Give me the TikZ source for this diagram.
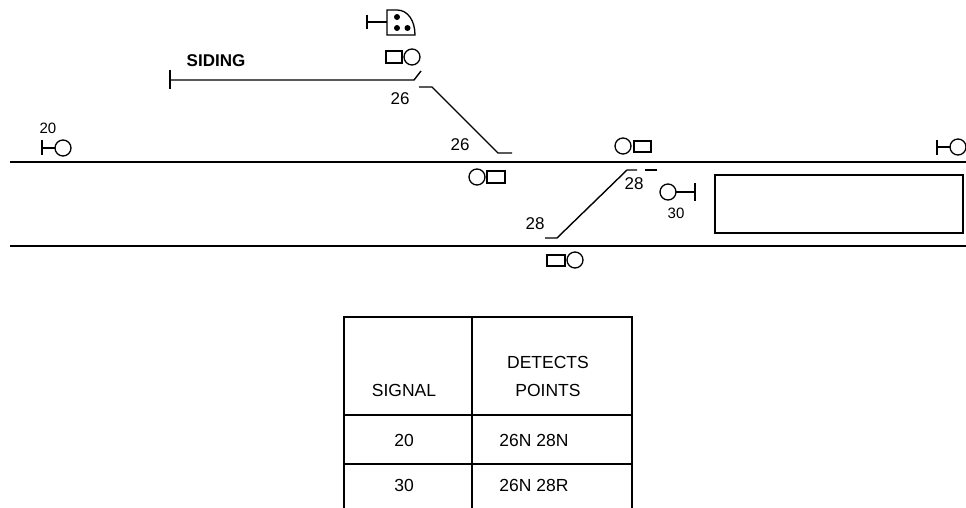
\documentclass[tikz,border=0pt]{standalone}
\usepackage{fontspec}
\setmainfont{Liberation Sans}
\begin{document}
\begin{tikzpicture}[x=1pt,y=-1pt,
  track/.style={line width=1.8pt},
  thin/.style={line width=1.4pt},
  sig/.style={line width=1.3pt},
  lbl/.style={font=\fontsize{17}{17}\selectfont, inner sep=0pt},
  tbl/.style={font=\fontsize{17.5}{17.5}\selectfont, inner sep=0pt},
  dot/.style={fill=black, draw=none}]
\useasboundingbox (0,0) rectangle (966,508);
% main lines
\coordinate (L1a) at (10,162); \coordinate (L1b) at (966,162);
\coordinate (L2a) at (10,246); \coordinate (L2b) at (966,246);
\draw[track] (L1a) -- (L1b);
\draw[thin] (L2a) -- (L2b);
% siding
\coordinate (Sa) at (170,80); \coordinate (Sb) at (414,80); \coordinate (Sc) at (421,71);
\draw[thin] (Sa) -- (Sb) -- (Sc);
\draw[thin] (170,70) -- (170,89);
\node[lbl, font=\fontsize{17}{17}\selectfont\bfseries] (siding) at (216,61) {SIDING};
% points 26
\coordinate (P26a) at (419,87); \coordinate (P26b) at (432,87);
\coordinate (P26c) at (498,153); \coordinate (P26d) at (512,153);
\draw[thin] (P26a) -- (P26b) -- (P26c) -- (P26d);
\node[lbl] (l26a) at (400,99) {26};
\node[lbl] (l26b) at (460,145) {26};
% points 28
\coordinate (P28a) at (545,238); \coordinate (P28b) at (557,238);
\coordinate (P28c) at (627,170); \coordinate (P28d) at (637,170);
\draw[thin] (P28a) -- (P28b) -- (P28c) -- (P28d);
\draw[thin] (645,170) -- (657,170);
\node[lbl] (l28a) at (535,224) {28};
\node[lbl] (l28b) at (634,184) {28};
% shunt signal (top)
\draw[sig] (367,15) -- (367,29);
\draw[sig] (367,22) -- (387,22);
\draw[sig] (397,10) -- (387,10) -- (387,35) -- (415,35)
  .. controls (415,21) and (408,10) .. (397,10) -- cycle;
\fill[dot] (397,17) circle (3);
\fill[dot] (397,28) circle (3);
\fill[dot] (407.5,28) circle (3);
% siding signal (rect + circle)
\draw[sig] (386,51) rectangle (402,63);
\draw[sig] (412,57) circle (8);
% signal 20
\node[lbl, font=\fontsize{15}{15}\selectfont] (l20) at (48,128) {20};
\draw[sig] (42,140) -- (42,155);
\draw[sig] (42,148) -- (55,148);
\draw[sig] (63,148) circle (8);
% right edge signal
\draw[sig] (937,140) -- (937,155);
\draw[sig] (937,147) -- (950,147);
\draw[sig] (958,147) circle (8);
% signal below line 1 near 26
\draw[sig] (477,177) circle (8);
\draw[sig] (487,171) rectangle (505,183);
% signal above line 1 near 28
\draw[sig] (623,146) circle (8);
\draw[sig] (634,141) rectangle (651,152);
% signal 30
\draw[sig] (668,192) circle (8);
\draw[sig] (676,192) -- (695,192);
\draw[sig] (695,183) -- (695,201);
\node[lbl, font=\fontsize{15}{15}\selectfont] (l30) at (676,213) {30};
% platform rectangle
\draw[thin] (715,175) rectangle (963,233);
% bottom signal
\draw[sig] (547,255) rectangle (565,266);
\draw[sig] (575,260) circle (8);
% table
\draw[thin] (344,508) -- (344,317) -- (632,317) -- (632,508);
\draw[thin] (472,317) -- (472,508);
\draw[thin] (344,415) -- (632,415);
\draw[thin] (344,464) -- (632,464);
\node[tbl] (hsig) at (404,390) {SIGNAL};
\node[tbl] (hdet) at (548,362) {DETECTS};
\node[tbl] (hpts) at (548,390) {POINTS};
\node[tbl] (r1a) at (404,440) {20};
\node[tbl] (r1b) at (534,440) {26N 28N};
\node[tbl] (r2a) at (404,485) {30};
\node[tbl] (r2b) at (534,485) {26N 28R};
\end{tikzpicture}
\end{document}
